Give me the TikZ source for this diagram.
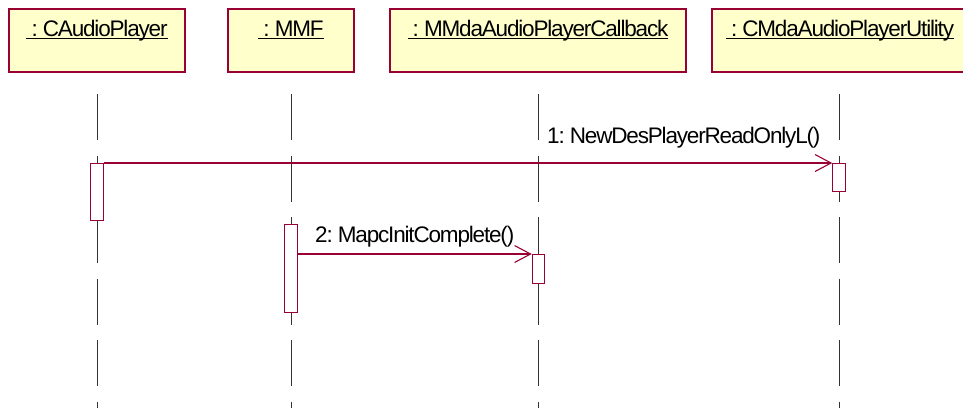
\documentclass[tikz,border=0pt]{standalone}
\usepackage{fontspec}
\setmainfont{Liberation Sans}[LetterSpace=-5.2]
\frenchspacing
\usetikzlibrary{arrows.meta}
\definecolor{umlred}{RGB}{153,0,51}
\definecolor{umlfill}{RGB}{255,255,204}
\definecolor{lifegray}{RGB}{50,50,50}
% underlined object name, rule drawn through the descenders
\newcommand\objname[1]{\setbox0\hbox{#1}\rlap{\rule[-3pt]{\wd0}{1.2pt}}\box0}
\begin{document}
\begin{tikzpicture}[x=1pt,y=-1pt,
  txt/.style={inner sep=0pt,anchor=base,font=\fontsize{22.5}{26}\selectfont},
  objbox/.style={draw=umlred,fill=umlfill,line width=1.2pt},
  lifeline/.style={draw=lifegray,line width=1pt,dash pattern=on 46pt off 15.5pt},
  actbox/.style={draw=umlred,fill=white,line width=1.1pt,minimum width=12.5pt,inner sep=0pt,anchor=north},
  msg/.style={draw=umlred,line width=1.1pt,-{Straight Barb[length=16pt,width=17pt,line width=1.1pt]}}]
\useasboundingbox (0,0) rectangle (963,408);

% object boxes
\draw[objbox] (9,9) rectangle (185,72);
\draw[objbox] (228,9) rectangle (354,72);
\draw[objbox] (390,9) rectangle (686,72);
\draw[objbox] (712,9) rectangle (970,72);
\node[txt] (oa) at (97,36) {\objname{\ : CAudioPlayer}};
\node[txt] (om) at (291,36) {\objname{\ : MMF}};
\node[txt] (oc) at (538,36) {\objname{\ : MMdaAudioPlayerCallback}};
\node[txt] (ou) at (840,36) {\objname{\ : CMdaAudioPlayerUtility}};

% lifelines
\coordinate (la0) at (97,94);  \coordinate (la1) at (97,408);
\coordinate (lm0) at (291,94); \coordinate (lm1) at (291,408);
\coordinate (lc0) at (538,94); \coordinate (lc1) at (538,408);
\coordinate (lu0) at (839,94); \coordinate (lu1) at (839,408);
\draw[lifeline] (la0) -- (la1);
\draw[lifeline] (lm0) -- (lm1);
\draw[lifeline] (lc0) -- (lc1);
\draw[lifeline] (lu0) -- (lu1);

% activations
\node[actbox,minimum height=57pt] (aa) at (97,163) {};
\node[actbox,minimum height=28pt] (au) at (839,163) {};
\node[actbox,minimum height=88pt,minimum width=13.5pt] (am) at (291,224) {};
\node[actbox,minimum height=29pt] (ac) at (538.5,254) {};

% messages
\draw[msg] (aa.north east) -- (au.north west);
\draw[msg] (am.east |- ac.north) -- (ac.north west);
\node[txt,anchor=base west] (m1) at (547,143) {1: NewDesPlayerReadOnlyL()};
\node[txt,anchor=base west] (m2) at (315,242) {2: MapcInitComplete()};
\end{tikzpicture}
\end{document}
